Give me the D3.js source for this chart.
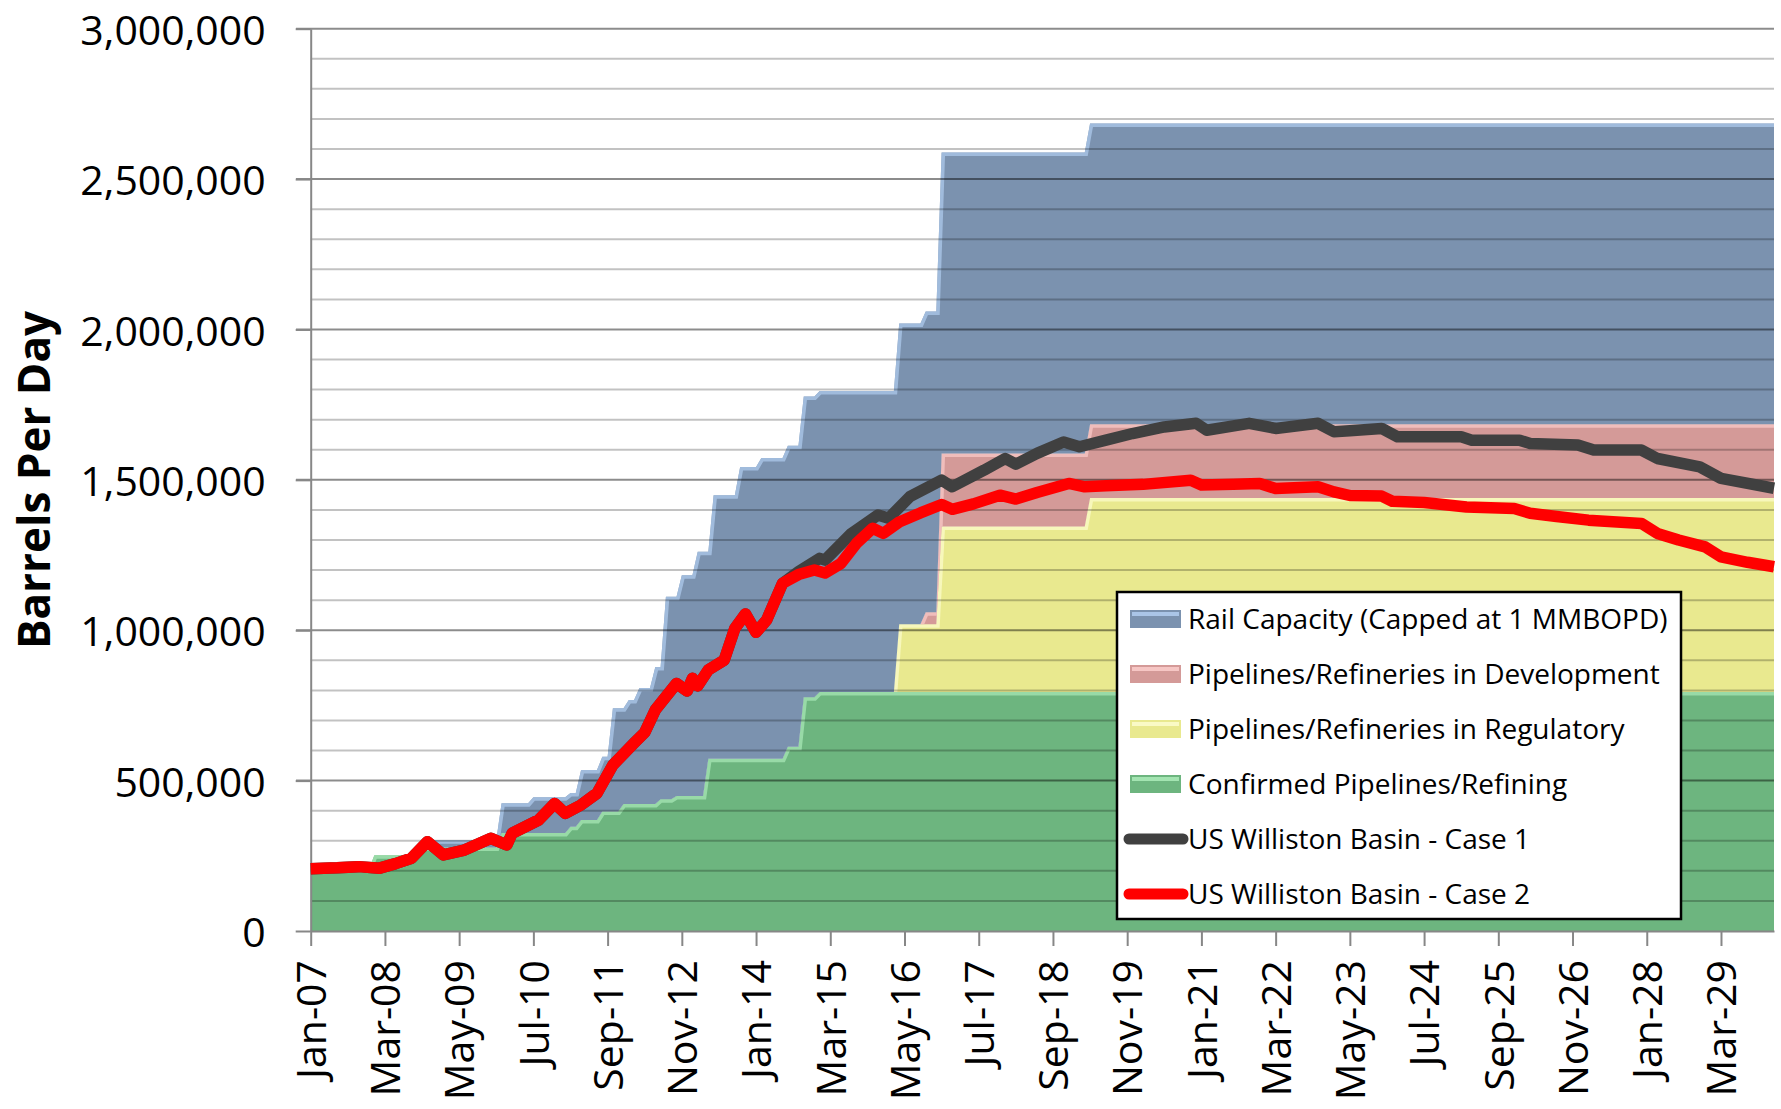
<!DOCTYPE html>
<html>
<head>
<meta charset="utf-8">
<script src="https://cdn.jsdelivr.net/npm/d3@7"></script>
<style>
  body { margin: 0; background: #fff; }
  svg { display: block; font-family: "Open Sans", sans-serif; }
</style>
</head>
<body>
<svg id="chart" width="1781" height="1109"></svg>
<script>
// month index 0 = Jan-07, one category per month up to Jan-30 (276)
// step layers: [month where the value starts, barrels per day]
var confirmedSteps = [[0,205000],[12,252000],[21,278000],[36,326000],[49,347000],[51,369000],
  [55,397000],[59,422000],[66,438000],[69,449000],[75,573000],[90,613000],[93,777000],[96,795000]];
var regulatorySteps = [[0,0],[111,225000],[119,550000],[147,645000]];
var developmentSteps = [[0,0],[116,40000],[119,243000],[147,245000]];
var railSteps = [[0,0],[21,24000],[36,99000],[42,119000],[49,112000],[51,166000],[55,182000],
  [57,344000],[59,319000],[60,346000],[62,386000],[65,456000],[66,440000],[67,673000],[69,662000],
  [70,734000],[73,812000],[75,688000],[76,876000],[81,970000],[85,1000000]];

// production forecasts: [month, barrels per day]
var case2 = [[0,207000],[5,210000],[9,214000],[13,209000],[16,224000],[19,242000],[22,297000],
  [25,253000],[29,269000],[34,308000],[37,286000],[38,325000],[43,369000],[46,424000],[48,391000],
  [51,419000],[54,458000],[57,552000],[61,625000],[63,660000],[65,735000],[69,823000],[71,798000],
  [72,840000],[73,815000],[75,868000],[78,901000],[80,1006000],[82,1054000],[84,993000],[86,1034000],
  [89,1156000],[92,1185000],[95,1200000],[97,1190000],[100,1222000],[103,1290000],[106,1339000],
  [108,1322000],[111,1360000],[115,1390000],[119,1418000],[121,1402000],[125,1420000],[130,1449000],
  [133,1436000],[137,1458000],[143,1488000],[146,1477000],[150,1480000],[157,1485000],[166,1499000],
  [168,1483000],[174,1485000],[179,1488000],[182,1471000],[190,1477000],[193,1460000],[196,1448000],
  [202,1446000],[204,1429000],[210,1425000],[218,1410000],[227,1405000],[230,1389000],[235,1378000],
  [241,1366000],[251,1355000],[254,1322000],[258,1300000],[263,1277000],[266,1244000],[271,1226000],
  [276,1211000]];
// case 1 runs under case 2 until early 2014, then splits off
var case1Late = [[92,1195000],[96,1239000],[97,1233000],[102,1322000],[107,1383000],[109,1372000],
  [113,1444000],[119,1499000],[121,1477000],[127,1532000],[131,1571000],[133,1552000],[137,1588000],
  [142,1626000],[145,1610000],[150,1632000],[155,1654000],[161,1676000],[167,1688000],[169,1665000],
  [177,1688000],[182,1671000],[190,1688000],[193,1660000],[196,1663000],[202,1671000],[205,1643000],
  [217,1643000],[219,1632000],[228,1632000],[230,1621000],[239,1616000],[242,1599000],[251,1599000],
  [254,1571000],[262,1543000],[266,1505000],[276,1472000]];
var case1 = case2.filter(function(d){ return d[0] <= 89; }).concat(case1Late);

var xTickLabels = ["Jan-07","Mar-08","May-09","Jul-10","Sep-11","Nov-12","Jan-14","Mar-15",
  "May-16","Jul-17","Sep-18","Nov-19","Jan-21","Mar-22","May-23","Jul-24","Sep-25","Nov-26",
  "Jan-28","Mar-29"];
var yTicks = [0,500000,1000000,1500000,2000000,2500000,3000000];

var layerNames = ["Rail Capacity (Capped at 1 MMBOPD)","Pipelines/Refineries in Development",
  "Pipelines/Refineries in Regulatory","Confirmed Pipelines/Refining"];
var lineNames = ["US Williston Basin - Case 1","US Williston Basin - Case 2"];

var svg = d3.select("#chart");
var x = d3.scaleLinear().domain([0, 276]).range([310.7, 1774]);
var y = d3.scaleLinear().domain([0, 3000000]).range([931, 28.7]);

function stepValue(steps, m) {
  var v = 0;
  steps.forEach(function(s){ if (s[0] <= m) v = s[1]; });
  return v;
}

var table = d3.range(0, 277).map(function(m){
  return {m: m,
    confirmed: stepValue(confirmedSteps, m),
    regulatory: stepValue(regulatorySteps, m),
    development: stepValue(developmentSteps, m),
    rail: stepValue(railSteps, m)};
});

var keys = ["confirmed","regulatory","development","rail"];
var fills = {confirmed:"#6db57f", regulatory:"#e9e98f", development:"#d49a98", rail:"#7b92af"};
var lights = {confirmed:"#a3e4b1", regulatory:"#fafac6", development:"#f6c6c4", rail:"#aac5e7"};
var series = d3.stack().keys(keys)(table);

var area = d3.area()
  .x(function(d){ return x(d.data.m); })
  .y0(function(d){ return y(d[0]); })
  .y1(function(d){ return y(d[1]); });
var topLine = d3.line()
  .x(function(d){ return x(d.data.m); })
  .y(function(d){ return y(d[1]); });

var defs = svg.append("defs");
series.forEach(function(s){
  defs.append("clipPath").attr("id", "clip-" + s.key)
    .append("path").attr("d", area(s));
});

var areas = svg.append("g");
series.forEach(function(s){
  areas.append("path").attr("d", area(s)).attr("fill", fills[s.key]);
  // bevel highlight along the top edge
  areas.append("path").attr("d", topLine(s))
    .attr("fill", "none").attr("stroke", lights[s.key]).attr("stroke-width", 7)
    .attr("opacity", 0.8)
    .attr("clip-path", "url(#clip-" + s.key + ")");
});

// gridlines on top of the areas
var grid = svg.append("g");
d3.range(100000, 3000001, 100000).forEach(function(v){
  var major = v % 500000 === 0;
  grid.append("line")
    .attr("x1", major ? 296 : x(0)).attr("x2", x(276))
    .attr("y1", y(v)).attr("y2", y(v))
    .attr("stroke", major ? "rgba(0,0,0,0.45)" : "rgba(0,0,0,0.24)")
    .attr("stroke-width", 2);
});

// axes
var yAxis = svg.append("g").attr("transform", "translate(" + x(0) + ",0)")
  .call(d3.axisLeft(y).tickValues(yTicks).tickSize(15).tickSizeOuter(0).tickPadding(30)
    .tickFormat(d3.format(",")));
yAxis.selectAll("text").attr("font-size", 41).attr("fill", "#000")
  .attr("dy", "0.38em").attr("font-family", "Open Sans");

var parseTick = d3.timeParse("%b-%y");
var tickMonths = xTickLabels.map(function(t){
  var d = parseTick(t);
  return (d.getFullYear() - 2007) * 12 + d.getMonth();
});
var xAxis = svg.append("g").attr("transform", "translate(0," + y(0) + ")")
  .call(d3.axisBottom(x).tickValues(tickMonths).tickSize(15).tickSizeOuter(0)
    .tickFormat(function(d, i){ return xTickLabels[i]; }));
xAxis.selectAll("text")
  .attr("transform", "rotate(-90)")
  .attr("text-anchor", "end")
  .attr("x", -29).attr("y", 0).attr("dy", "0.36em")
  .attr("font-size", 41).attr("fill", "#000").attr("font-family", "Open Sans");

svg.selectAll(".domain, .tick line").attr("stroke", "#878787").attr("stroke-width", 2);

svg.append("text")
  .attr("transform", "translate(50,480) rotate(-90)")
  .attr("text-anchor", "middle")
  .attr("font-size", 44).attr("font-weight", "bold")
  .text("Barrels Per Day");

// forecast lines
var line = d3.line()
  .x(function(d){ return x(d[0]); })
  .y(function(d){ return y(d[1]); });
svg.append("path").attr("d", line(case1)).attr("fill", "none")
  .attr("stroke", "#404040").attr("stroke-width", 11.5).attr("stroke-linejoin", "round");
svg.append("path").attr("d", line(case2)).attr("fill", "none")
  .attr("stroke", "#ff0000").attr("stroke-width", 11.5).attr("stroke-linejoin", "round");

// legend
var legend = svg.append("g");
legend.append("rect")
  .attr("x", 1117).attr("y", 592).attr("width", 564).attr("height", 327)
  .attr("fill", "#fff").attr("stroke", "#000").attr("stroke-width", 2.5);

var legendKeys = ["rail","development","regulatory","confirmed"];
legendKeys.forEach(function(k, i){
  var cy = 619 + i * 55;
  legend.append("rect").attr("x", 1130).attr("y", cy - 9).attr("width", 51).attr("height", 18)
    .attr("fill", fills[k]);
  legend.append("rect").attr("x", 1132).attr("y", cy - 7).attr("width", 47).attr("height", 4)
    .attr("fill", lights[k]);
  legend.append("text").attr("x", 1188).attr("y", cy + 10)
    .attr("font-size", 28).text(layerNames[i]);
});
["#404040","#ff0000"].forEach(function(c, i){
  var cy = 619 + (i + 4) * 55;
  legend.append("line").attr("x1", 1129).attr("x2", 1183).attr("y1", cy).attr("y2", cy)
    .attr("stroke", c).attr("stroke-width", 11).attr("stroke-linecap", "round");
  legend.append("text").attr("x", 1188).attr("y", cy + 10)
    .attr("font-size", 28).text(lineNames[i]);
});
</script>
</body>
</html>
